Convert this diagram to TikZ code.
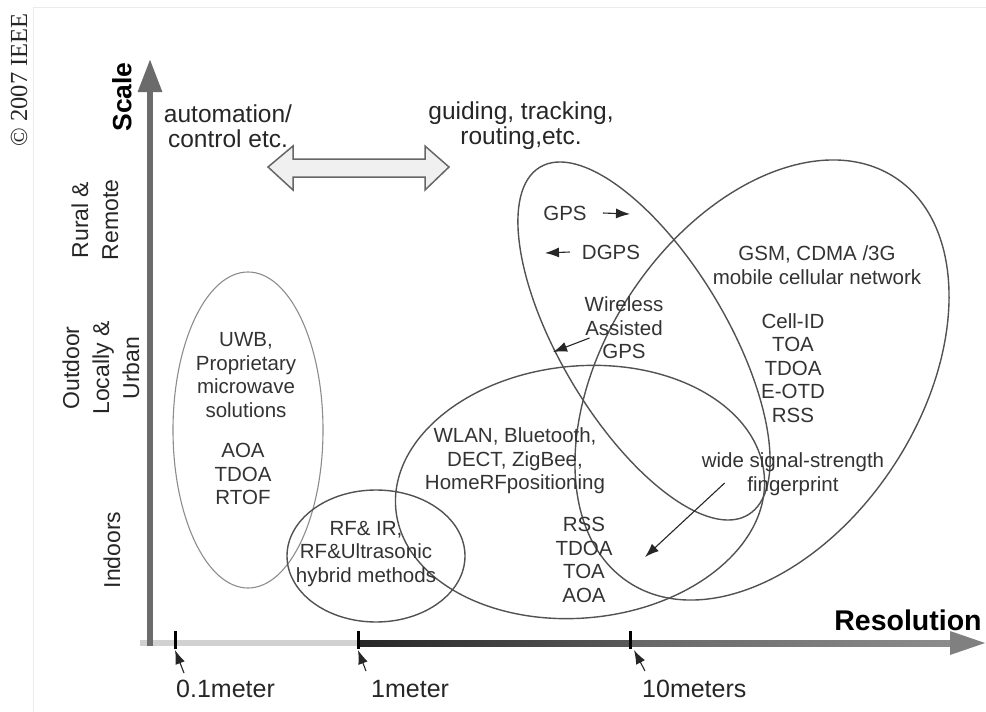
\documentclass[tikz,border=0pt]{standalone}
\usepackage{fontspec}
\setmainfont{Liberation Sans}
\newfontfamily\ieeefont{Liberation Serif}
\usetikzlibrary{arrows.meta,positioning,shapes.geometric}

\begin{document}
\begin{tikzpicture}[x=1pt, y=-1pt,
    lbl/.style={font=\fontsize{20.5}{23.5}\selectfont, text=black!80, align=center, inner sep=0pt},
    toplbl/.style={font=\fontsize{24.5}{25}\selectfont, text=black!85, align=center, inner sep=0pt},
    axlbl/.style={font=\fontsize{23}{30}\selectfont, text=black!85, align=center, inner sep=0pt, rotate=90},
    ticklbl/.style={font=\fontsize{25}{25}\selectfont, text=black!85, inner sep=0pt, anchor=west},
    region/.style={draw=black!68, line width=1.4pt},
    pointer/.style={-{Latex[length=14pt,width=10pt]}, line width=1.1pt, black!85}
]
    \useasboundingbox (0,0) rectangle (986,712);
    \draw[black!8, line width=1pt] (33,712) -- (33,7) -- (986,7);

    % Copyright
    \node[font=\ieeefont\fontsize{24.5}{25}\selectfont, rotate=90, inner sep=0pt, text=black!85] (ieee) at (19,80) {© 2007 IEEE};

    % Regions
    \draw[region, draw=black!45, line width=1.1pt] (248,430) ellipse [x radius=75, y radius=158];
    \draw[region] (376,556) ellipse [x radius=89, y radius=66];
    \draw[region, rotate around={5.4:(580,492)}] (580,492) ellipse [x radius=185, y radius=126];
    \draw[region, rotate around={-59.1:(644,341)}] (644,341) ellipse [x radius=202.6, y radius=83];
    \draw[region, rotate around={56.6:(762,380)}] (762,380) ellipse [x radius=242.3, y radius=157.1];

    % Axes
    \fill[black!18] (140,640) rectangle (358,646);
    \shade[left color=black!85, right color=black!65] (358,640) rectangle (630,646);
    \shade[left color=black!60, right color=black!45] (630,640) rectangle (952,646);
    \fill[black!50] (950,631) -- (985,643) -- (950,655) -- cycle;
    \draw[line width=6pt, black!58, -{Triangle[length=33pt,width=23pt]}] (150,646) -- (150,59);
    \foreach \tx in {175,358,630}
        \draw[line width=3pt] (\tx,631) -- (\tx,649);

    \node[font=\bfseries\fontsize{26.5}{30}\selectfont, rotate=90, inner sep=0pt] (scale) at (122,97) {Scale};
    \node[font=\bfseries\fontsize{28.5}{30}\selectfont, inner sep=0pt] (res) at (908,620) {Resolution};

    \node[axlbl] (rural) at (95,220) {Rural \&\\Remote};
    \node[axlbl] (outdoor) at (101,368) {Outdoor\\Locally \&\\Urban};
    \node[axlbl] (indoor) at (112,550) {Indoors};

    \node[ticklbl] (m01) at (176,689) {0.1meter};
    \node[ticklbl] (m1) at (371,689) {1meter};
    \node[ticklbl] (m10) at (642,689) {10meters};
    \coordinate (tk01) at (175,650);
    \coordinate (tk1) at (358,650);
    \coordinate (tk10) at (634,650);
    \draw[pointer] ([shift={(8,-16)}]m01.west) -- (tk01);
    \draw[pointer] ([shift={(-5,-18)}]m1.west) -- (tk1);
    \draw[pointer] ([shift={(3,-18)}]m10.west) -- (tk10);

    % Applications
    \node[toplbl] (auto) at (228,126) {automation/\\control etc.};
    \node[toplbl] (guide) at (521,126) {guiding, tracking,\\routing,etc.};
    \draw[fill=black!6, draw=black!60, line width=1.5pt, line join=miter]
        (268,167) -- (293,146) -- (293,159) -- (425,159) -- (425,146) -- (449,167)
        -- (425,190) -- (425,177) -- (293,177) -- (293,190) -- cycle;

    % Technologies
    \node[lbl] (uwb) at (246,375) {UWB,\\Proprietary\\microwave\\solutions};
    \node[lbl] (uwbm) at (243,474) {AOA\\TDOA\\RTOF};
    \node[lbl] (rfir) at (366,554) {RF\& IR,\\RF\&Ultrasonic\\hybrid methods};
    \node[lbl] (wlan) at (515,461) {WLAN, Bluetooth,\\DECT, ZigBee,\\HomeRFpositioning};
    \node[lbl] (rss) at (584,560) {RSS\\TDOA\\TOA\\AOA};
    \node[lbl] (gps) at (565,213) {GPS};
    \node[lbl] (dgps) at (611,252) {DGPS};
    \node[lbl] (wagps) at (624,328) {Wireless\\Assisted\\GPS};
    \node[lbl] (gsm) at (817,265) {GSM, CDMA /3G\\mobile cellular network};
    \node[lbl] (cellid) at (793,368) {Cell-ID\\TOA\\TDOA\\E-OTD\\RSS};
    \node[lbl] (wide) at (793,474) {wide signal-strength\\fingerprint};

    % Pointers
    \coordinate (gpsTip) at (630,214);
    \coordinate (dgpsTip) at (545,253);
    \coordinate (waTip) at (553,352);
    \coordinate (wideTip) at (645,557);
    \draw[pointer] ([xshift=16pt]gps.east) -- (gpsTip);
    \draw[pointer] ([xshift=-12pt]dgps.west) -- (dgpsTip);
    \draw[pointer] ([shift={(5,10)}]wagps.west) -- (waTip);
    \draw[pointer] ([shift={(23,9)}]wide.west) -- (wideTip);

\end{tikzpicture}
\end{document}
